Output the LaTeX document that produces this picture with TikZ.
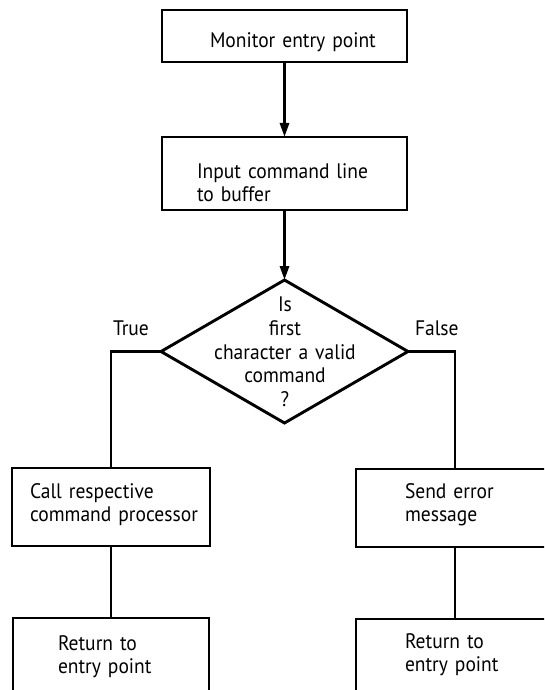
\documentclass[tikz,border=0pt]{standalone}
\usepackage{fontspec}
\setmainfont{PT Sans}[FakeStretch=0.93]
\usetikzlibrary{shapes.geometric,arrows.meta}
\begin{document}
\begin{tikzpicture}[x=1pt,y=-1pt,
  every node/.style={inner sep=0pt, outer sep=0pt},
  stepbox/.style={draw, line width=2.9pt, rectangle},
  decision/.style={draw, line width=2.9pt, diamond, minimum width=247pt, minimum height=143pt},
  label text/.style={font=\fontsize{21pt}{23pt}\selectfont, text width=200pt, align=left, anchor=base west},
  question/.style={font=\fontsize{21pt}{23.7pt}\selectfont, text width=200pt, align=center, anchor=base},
  link/.style={line width=2.9pt},
  flow/.style={link, -{Triangle[length=14pt,width=9pt]}}]
\useasboundingbox (0,0) rectangle (544,690);
\clip (0,0) rectangle (544,690);

% process boxes
\node[stepbox, minimum width=245pt, minimum height=52pt] (entry) at (284.5,36) {};
\node[stepbox, minimum width=245pt, minimum height=73pt] (input) at (284.5,173.5) {};
\node[decision] (valid) at (284.5,351.5) {};
\node[stepbox, minimum width=198pt, minimum height=78pt] (call) at (111,507) {};
\node[stepbox, minimum width=198pt, minimum height=78pt] (send) at (455,508) {};
\node[stepbox, minimum width=196pt, minimum height=78pt] (retl) at (111,657) {};
\node[stepbox, minimum width=198pt, minimum height=78pt] (retr) at (455,658) {};

% box texts
\node[label text] (tentry) at (210,48) {Monitor entry point};
\node[label text] (tinput) at (197,178) {Input command line\\to buffer};
\node[question] (tvalid) at (285,311.7) {Is\\first\\character a valid\\command\\?};
\node[label text] (tcall) at (30,498) {Call respective\\command processor};
\node[label text] (tsend) at (405,498) {Send error\\message};
\node[label text] (tretl) at (58,650) {Return to\\entry point};
\node[label text] (tretr) at (405,648) {Return to\\entry point};

% branch labels
\node[label text] (ttrue) at (113,335) {True};
\node[label text] (tfalse) at (415,335) {False};

% connectors
\draw[flow] (entry) -- (input);
\draw[flow] (input) -- (valid);
\draw[link] (valid.west) -| (call.north);
\draw[link] (valid.east) -| (send.north);
\draw[link] (call) -- (retl);
\draw[link] (send) -- (retr);
\end{tikzpicture}
\end{document}
